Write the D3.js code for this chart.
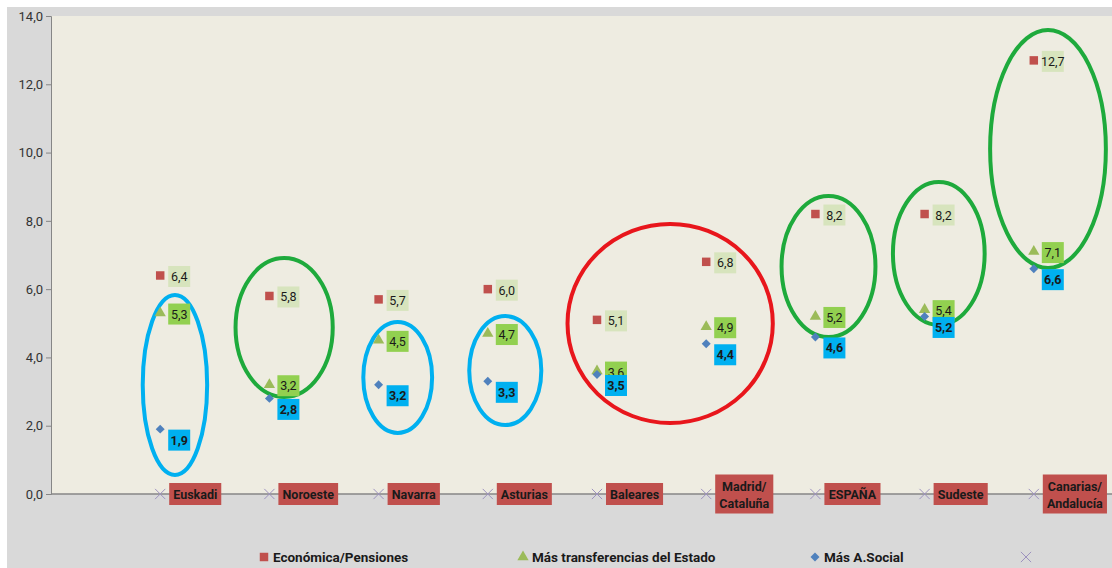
<!DOCTYPE html>
<html>
<head>
<meta charset="utf-8">
<script src="https://cdn.jsdelivr.net/npm/d3@7"></script>
<style>
  html, body { margin: 0; padding: 0; background: #fff; }
  svg { display: block; font-family: "Roboto", "Liberation Sans", sans-serif; }
</style>
</head>
<body>
<svg id="chart" width="1112" height="568"></svg>
<script>
var categories = ["Euskadi", "Noroeste", "Navarra", "Asturias", "Baleares",
    "Madrid/\nCataluña", "ESPAÑA", "Sudeste", "Canarias/\nAndalucía"];
var economica = [6.4, 5.8, 5.7, 6.0, 5.1, 6.8, 8.2, 8.2, 12.7];
var transferencias = [5.3, 3.2, 4.5, 4.7, 3.6, 4.9, 5.2, 5.4, 7.1];
var social = [1.9, 2.8, 3.2, 3.3, 3.5, 4.4, 4.6, 5.2, 6.6];
var base = [0, 0, 0, 0, 0, 0, 0, 0, 0];
var yTicks = [0, 2, 4, 6, 8, 10, 12, 14];
var legendNames = ["Económica/Pensiones", "Más transferencias del Estado", "Más A.Social", ""];

// hand-drawn highlight ellipses, in data units: [category index from, to], [value top, bottom]
var ringIdx = [[-0.16, 0.43], [0.69, 1.58], [1.86, 2.49], [2.83, 3.49], [3.73, 5.61],
    [5.69, 6.55], [6.71, 7.55], [7.6, 8.66]];
var ringVal = [[5.83, 0.56], [6.91, 2.84], [5.04, 1.79], [5.21, 2.02], [7.91, 2.08],
    [8.73, 4.6], [9.14, 4.95], [13.59, 6.62]];
var ringColor = ["#00b0f0", "#1eaa3c", "#00b0f0", "#00b0f0", "#e8161c", "#1eaa3c", "#1eaa3c", "#1eaa3c"];

var svg = d3.select("#chart"),
    fmt = function(v) { return d3.format(".1f")(v).replace(".", ","); };

var margin = {left: 51, top: 16, bottom: 494},
    x = d3.scaleLinear().domain([-1, 9]).range([margin.left, margin.left + 10 * 109.2]),
    y = d3.scaleLinear().domain([0, 14]).range([margin.bottom, margin.top]);

// backgrounds
svg.append("rect").attr("x", 7).attr("y", 7).attr("width", 1105).attr("height", 561).attr("fill", "#d9d9d9");
svg.append("rect").attr("x", margin.left).attr("y", margin.top)
    .attr("width", 1112 - margin.left).attr("height", margin.bottom - margin.top).attr("fill", "#eeece1");

// y axis
var yAxis = svg.append("g")
    .attr("transform", "translate(" + margin.left + ",0)")
    .call(d3.axisLeft(y).tickValues(yTicks).tickFormat(fmt).tickSize(5).tickPadding(3));
yAxis.select(".domain").attr("stroke", "#868686");
yAxis.selectAll(".tick line").attr("stroke", "#868686");
yAxis.selectAll("text").attr("fill", "#333").style("font-size", "13px")
    .style("font-family", "Roboto, sans-serif");

// x axis line
svg.append("line").attr("x1", margin.left).attr("x2", 1112)
    .attr("y1", y(0)).attr("y2", y(0)).attr("stroke", "#868686").attr("stroke-width", 1.3);

// ellipses
svg.append("g").selectAll("ellipse")
    .data(ringIdx)
    .join("ellipse")
    .attr("cx", function(d) { return (x(d[0]) + x(d[1])) / 2; })
    .attr("rx", function(d) { return (x(d[1]) - x(d[0])) / 2; })
    .attr("cy", function(d, i) { return (y(ringVal[i][0]) + y(ringVal[i][1])) / 2; })
    .attr("ry", function(d, i) { return (y(ringVal[i][1]) - y(ringVal[i][0])) / 2; })
    .attr("fill", "none")
    .attr("stroke", function(d, i) { return ringColor[i]; })
    .attr("stroke-width", 4);

// markers
var sym = {
    sq: d3.symbol().type(d3.symbolSquare).size(72),
    tri: d3.symbol().type(d3.symbolTriangle).size(55),
    dia: d3.symbol().type(d3.symbolSquare).size(40),
    x: d3.symbol().type(d3.symbolX).size(70)
};
var rot = {dia: 45};

function drawMarkers(vals, s, color, stroke, r) {
    svg.append("g").selectAll("path")
        .data(vals)
        .join("path")
        .attr("transform", function(d, i) {
            return "translate(" + x(i) + "," + y(d) + ")" + (r ? " rotate(" + r + ")" : "");
        })
        .attr("d", s)
        .attr("fill", stroke ? "none" : color)
        .attr("stroke", stroke ? color : "none")
        .attr("stroke-width", 1);
}

function drawLabels(vals, bg, dy, weight) {
    var g = svg.append("g").selectAll("g")
        .data(vals)
        .join("g")
        .attr("transform", function(d, i) { return "translate(" + (x(i) + 8) + "," + (y(d) + dy) + ")"; });
    g.append("rect").attr("x", 0).attr("y", -10.5).attr("width", 22).attr("height", 21).attr("fill", bg);
    g.append("text").attr("x", 11).attr("y", 4.5).attr("text-anchor", "middle")
        .style("font-size", "12.5px").style("font-weight", weight).attr("fill", "#1a1a1a")
        .text(fmt);
}

drawMarkers(base, sym.x, "#9d92bf", true);
drawMarkers(economica, sym.sq, "#c0504d");
drawMarkers(transferencias, sym.tri, "#9bbb59");
drawMarkers(social, sym.dia, "#4f81bd", false, rot.dia);

drawLabels(economica, "#d7e4bd", 1, "normal");
drawLabels(transferencias, "#92d050", 1, "normal");
drawLabels(social, "#00b0f0", 11, "bold");

// category labels on the zero series
var cat = svg.append("g").selectAll("g")
    .data(categories)
    .join("g")
    .attr("transform", function(d, i) { return "translate(" + (x(i) + 9) + "," + y(base[i]) + ")"; });
cat.each(function(d) {
    var lines = d.split("\n"),
        g = d3.select(this),
        h = lines.length * 17 + 5,
        t = g.append("text").attr("fill", "#1a1a1a").style("font-size", "12.5px").style("font-weight", "bold");
    lines.forEach(function(l, k) {
        t.append("tspan").attr("x", 0).attr("y", -h / 2 + 16 + k * 17).text(l);
    });
    var w = t.node().getBBox().width;
    t.selectAll("tspan").attr("x", 4 + w / 2).attr("text-anchor", "middle");
    g.insert("rect", "text").attr("x", 0).attr("y", -h / 2)
        .attr("width", w + 8).attr("height", h).attr("fill", "#c0504d");
});

// legend
var legendX = [264, 523, 815, 1026],
    legendSym = [sym.sq, sym.tri, sym.dia, sym.x],
    legendCol = ["#c0504d", "#9bbb59", "#4f81bd", "#9d92bf"];
var leg = svg.append("g").selectAll("g")
    .data(legendNames)
    .join("g")
    .attr("transform", function(d, i) { return "translate(" + legendX[i] + ",557)"; });
leg.append("path")
    .attr("d", function(d, i) { return legendSym[i](); })
    .attr("transform", function(d, i) { return i == 2 ? "rotate(45)" : null; })
    .attr("fill", function(d, i) { return i == 3 ? "none" : legendCol[i]; })
    .attr("stroke", function(d, i) { return i == 3 ? legendCol[i] : "none"; });
leg.append("text").attr("x", 9).attr("y", 5)
    .style("font-size", "13.5px").style("font-weight", "bold").attr("fill", "#1a1a1a")
    .text(function(d) { return d; });
</script>
</body>
</html>
